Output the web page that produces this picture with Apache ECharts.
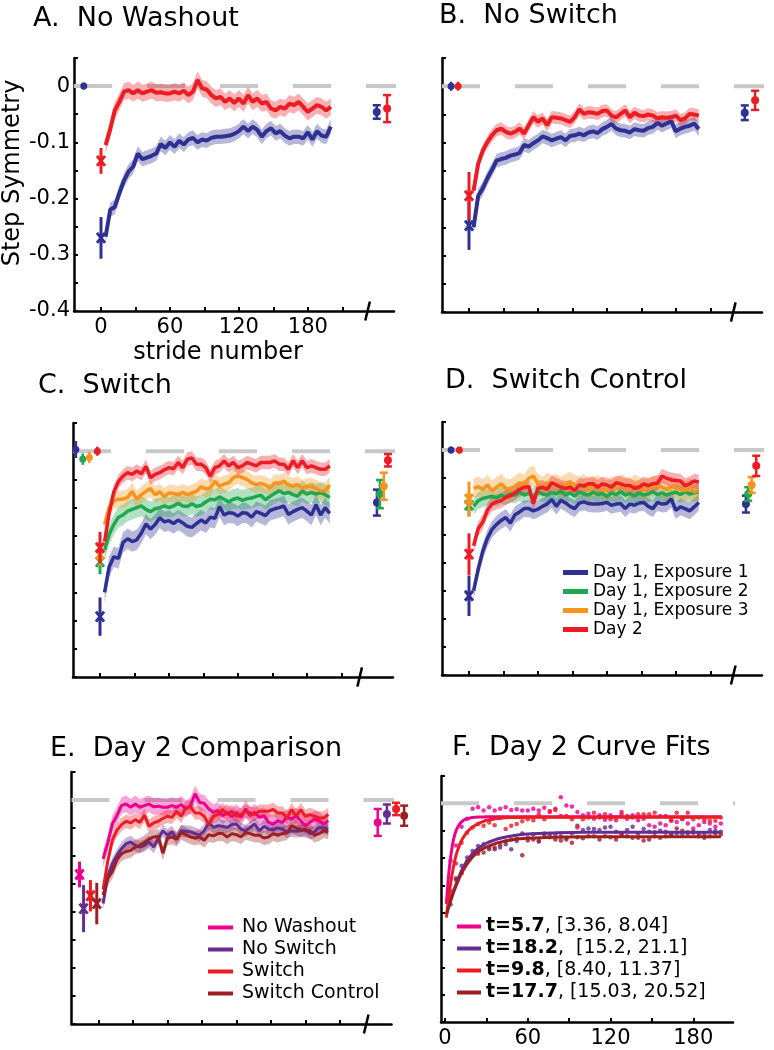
<!DOCTYPE html>
<html>
<head>
<meta charset="utf-8">
<title>Step Symmetry</title>
<script src="https://cdn.jsdelivr.net/npm/echarts@6/dist/echarts.min.js"></script>
<style>
html, body { margin: 0; padding: 0; background: #fff; }
#main { width: 774px; height: 1050px; }
</style>
</head>
<body>
<div id="main"></div>
<script>
// 步长（每个数据点对应的 stride）
var strides = [4, 8, 12, 16, 20, 24, 28, 32, 36, 40, 44, 48, 52, 56, 60, 64, 68, 72, 76, 80,
  84, 88, 92, 96, 100, 104, 108, 112, 116, 120, 124, 128, 132, 136, 140, 144, 148, 152, 156, 160,
  164, 168, 172, 176, 180, 184, 188, 192, 196, 200];

// 坐标轴刻度
var xTicks = [0, 30, 60, 90, 120, 150, 180, 210];
var xLabels = [0, 60, 120, 180];
var yTicks = [-0.4, -0.35, -0.3, -0.25, -0.2, -0.15, -0.1, -0.05, 0, 0.05];
var yLabels = [-0.4, -0.3, -0.2, -0.1, 0];

// A. No Washout
var noWashDay1 = [-0.268, -0.22, -0.215, -0.19, -0.168, -0.152, -0.143, -0.12, -0.13, -0.127,
  -0.124, -0.12, -0.103, -0.11, -0.1, -0.108, -0.097, -0.104, -0.095, -0.092,
  -0.1, -0.095, -0.097, -0.092, -0.09, -0.09, -0.089, -0.088, -0.085, -0.08,
  -0.072, -0.08, -0.072, -0.078, -0.09, -0.08, -0.075, -0.084, -0.08, -0.088,
  -0.093, -0.09, -0.09, -0.093, -0.082, -0.095, -0.08, -0.088, -0.09, -0.072];
var noWashDay2 = [-0.105, -0.077, -0.043, -0.028, -0.01, -0.007, -0.013, -0.007, -0.013, -0.01,
  -0.007, -0.012, -0.011, -0.013, -0.013, -0.01, -0.013, -0.008, -0.016, -0.01,
  0.011, -0.004, -0.006, -0.016, -0.022, -0.019, -0.028, -0.022, -0.03, -0.022,
  -0.031, -0.016, -0.028, -0.022, -0.031, -0.028, -0.04, -0.043, -0.037, -0.04,
  -0.031, -0.034, -0.028, -0.037, -0.046, -0.04, -0.034, -0.037, -0.043, -0.037];

// B. No Switch
var noSwDay1 = [-0.25, -0.194, -0.181, -0.163, -0.148, -0.132, -0.129, -0.127, -0.123, -0.121,
  -0.118, -0.104, -0.107, -0.101, -0.096, -0.089, -0.092, -0.096, -0.093, -0.09,
  -0.096, -0.088, -0.087, -0.084, -0.087, -0.082, -0.08, -0.083, -0.076, -0.072,
  -0.067, -0.075, -0.078, -0.079, -0.082, -0.076, -0.078, -0.079, -0.074, -0.072,
  -0.065, -0.07, -0.066, -0.062, -0.08, -0.075, -0.072, -0.07, -0.066, -0.076];
var noSwDay2 = [-0.185, -0.137, -0.114, -0.099, -0.087, -0.078, -0.075, -0.081, -0.084, -0.081,
  -0.075, -0.084, -0.069, -0.055, -0.063, -0.057, -0.069, -0.055, -0.056, -0.057,
  -0.06, -0.063, -0.055, -0.041, -0.049, -0.046, -0.047, -0.049, -0.044, -0.043,
  -0.052, -0.055, -0.049, -0.043, -0.055, -0.047, -0.052, -0.053, -0.05, -0.052,
  -0.057, -0.055, -0.056, -0.055, -0.052, -0.06, -0.057, -0.049, -0.05, -0.052];

// C. Switch
var swExp1 = [-0.25, -0.205, -0.187, -0.19, -0.162, -0.155, -0.16, -0.157, -0.145, -0.129,
  -0.138, -0.13, -0.118, -0.125, -0.123, -0.128, -0.122, -0.127, -0.133, -0.135,
  -0.128, -0.122, -0.127, -0.117, -0.119, -0.098, -0.113, -0.109, -0.11, -0.115,
  -0.109, -0.11, -0.117, -0.107, -0.11, -0.114, -0.105, -0.102, -0.1, -0.097,
  -0.112, -0.107, -0.103, -0.1, -0.106, -0.113, -0.095, -0.113, -0.1, -0.11];
var swExp2 = [-0.175, -0.147, -0.13, -0.117, -0.113, -0.106, -0.103, -0.1, -0.097, -0.103,
  -0.107, -0.102, -0.1, -0.097, -0.1, -0.097, -0.092, -0.097, -0.098, -0.093,
  -0.098, -0.096, -0.09, -0.085, -0.086, -0.081, -0.085, -0.09, -0.085, -0.083,
  -0.087, -0.084, -0.083, -0.08, -0.078, -0.086, -0.08, -0.075, -0.07, -0.075,
  -0.073, -0.077, -0.08, -0.07, -0.076, -0.073, -0.076, -0.073, -0.077, -0.082];
var swExp3 = [-0.13, -0.1, -0.088, -0.085, -0.085, -0.082, -0.071, -0.085, -0.077, -0.071,
  -0.066, -0.077, -0.072, -0.08, -0.074, -0.075, -0.077, -0.073, -0.077, -0.074,
  -0.071, -0.063, -0.067, -0.065, -0.053, -0.062, -0.058, -0.056, -0.047, -0.043,
  -0.047, -0.05, -0.056, -0.059, -0.057, -0.06, -0.065, -0.056, -0.057, -0.053,
  -0.06, -0.062, -0.059, -0.065, -0.063, -0.062, -0.066, -0.07, -0.07, -0.06];
var swDay2 = [-0.16, -0.11, -0.072, -0.054, -0.044, -0.038, -0.041, -0.035, -0.04, -0.027,
  -0.047, -0.041, -0.038, -0.033, -0.029, -0.031, -0.02, -0.029, -0.014, -0.012,
  -0.023, -0.023, -0.029, -0.044, -0.029, -0.026, -0.017, -0.026, -0.02, -0.029,
  -0.026, -0.02, -0.023, -0.026, -0.02, -0.02, -0.02, -0.017, -0.023, -0.023,
  -0.032, -0.017, -0.029, -0.017, -0.029, -0.026, -0.029, -0.032, -0.032, -0.026];

// D. Switch Control
var ctrlExp1 = [-0.25, -0.212, -0.18, -0.157, -0.141, -0.132, -0.125, -0.12, -0.13, -0.115,
  -0.11, -0.104, -0.104, -0.108, -0.105, -0.1, -0.096, -0.088, -0.1, -0.089,
  -0.094, -0.1, -0.104, -0.094, -0.092, -0.095, -0.096, -0.096, -0.095, -0.093,
  -0.098, -0.096, -0.095, -0.104, -0.096, -0.098, -0.094, -0.093, -0.1, -0.104,
  -0.093, -0.096, -0.095, -0.087, -0.107, -0.101, -0.104, -0.108, -0.101, -0.093];
var ctrlExp2 = [-0.1, -0.09, -0.086, -0.084, -0.082, -0.085, -0.08, -0.083, -0.078, -0.08,
  -0.075, -0.08, -0.077, -0.082, -0.074, -0.078, -0.08, -0.075, -0.078, -0.072,
  -0.08, -0.076, -0.082, -0.074, -0.078, -0.08, -0.075, -0.079, -0.077, -0.083,
  -0.076, -0.079, -0.074, -0.08, -0.077, -0.082, -0.076, -0.08, -0.078, -0.074,
  -0.079, -0.076, -0.08, -0.077, -0.075, -0.079, -0.074, -0.078, -0.076, -0.074];
var ctrlExp3 = [-0.068, -0.065, -0.07, -0.062, -0.072, -0.066, -0.06, -0.068, -0.07, -0.064,
  -0.058, -0.062, -0.05, -0.046, -0.06, -0.066, -0.058, -0.063, -0.06, -0.066,
  -0.06, -0.057, -0.062, -0.065, -0.06, -0.07, -0.066, -0.062, -0.068, -0.072,
  -0.064, -0.068, -0.06, -0.065, -0.068, -0.062, -0.066, -0.07, -0.068, -0.064,
  -0.062, -0.066, -0.07, -0.065, -0.067, -0.07, -0.072, -0.068, -0.074, -0.072];
var ctrlDay2 = [-0.17, -0.14, -0.128, -0.107, -0.096, -0.092, -0.09, -0.084, -0.081, -0.076,
  -0.07, -0.066, -0.065, -0.095, -0.068, -0.066, -0.07, -0.058, -0.062, -0.066,
  -0.068, -0.066, -0.072, -0.062, -0.064, -0.06, -0.06, -0.066, -0.06, -0.062,
  -0.066, -0.058, -0.06, -0.063, -0.063, -0.068, -0.066, -0.06, -0.063, -0.06,
  -0.059, -0.046, -0.05, -0.053, -0.054, -0.055, -0.063, -0.06, -0.055, -0.057];

// 标准误（阴影带半宽）
var seNoWash = [0.013, 0.015];
var seNoSw = [0.012, 0.011];
var seSw = [0.018, 0.018, 0.015, 0.012];
var seCtrl = [0.015, 0.015, 0.018, 0.013];

// 单点: [stride, 均值, 标准误]
var noWashBase = [[-15, 0, 0.006]];
var noWashFirst = [[0, -0.27, 0.037], [0, -0.133, 0.023]];
var noWashPost = [[240, -0.046, 0.012], [249, -0.04, 0.024]];

var noSwBase = [[-15.6, 0, 0.008], [-9.5, 0, 0.008]];
var noSwFirst = [[0, -0.247, 0.043], [0, -0.194, 0.042]];
var noSwPost = [[240, -0.047, 0.013], [249, -0.025, 0.017]];

var swBase = [[-21, 0.003, 0.015], [-15, -0.014, 0.01], [-9.3, -0.011, 0.01], [-2.3, 0, 0.008]];
var swFirst = [[0, -0.293, 0.034], [0, -0.196, 0.022], [0, -0.183, 0.02], [0, -0.171, 0.028]];
var swPost = [[241, -0.091, 0.023], [243.6, -0.076, 0.025], [247, -0.062, 0.024], [250.6, -0.016, 0.011]];

var ctrlBase = [[-15.6, 0, 0.006], [-8.4, 0, 0.006]];
var ctrlFirst = [[0, -0.259, 0.036], [0, -0.098, 0.02], [0, -0.087, 0.031], [0, -0.185, 0.037]];
var ctrlPost = [[241, -0.096, 0.015], [243, -0.078, 0.012], [246, -0.062, 0.014], [250, -0.028, 0.018]];

// E 中各组的横向错位
var cmpFirstX = [-16.5, -13, -7, -1.5];
var cmpPostX = [243, 251, 259, 266];

// F. 指数拟合曲线
var fitX = [1, 2, 3, 4, 6, 8, 10, 12, 15, 18, 22, 26, 30, 35, 40, 50, 60, 80, 100, 150, 200];
var fitNoWash = [-0.184, -0.15, -0.122, -0.1, -0.068, -0.05, -0.04, -0.034, -0.029, -0.027, -0.0255,
  -0.025, -0.0245, -0.0245, -0.0245, -0.0245, -0.0245, -0.0245, -0.0245, -0.0245, -0.0245];
var fitNoSw = [-0.203, -0.195, -0.186, -0.178, -0.162, -0.148, -0.135, -0.123, -0.109, -0.098, -0.087,
  -0.079, -0.073, -0.068, -0.064, -0.059, -0.056, -0.054, -0.053, -0.053, -0.053];
var fitSw = [-0.209, -0.187, -0.166, -0.148, -0.118, -0.095, -0.08, -0.068, -0.056, -0.047, -0.04,
  -0.035, -0.031, -0.029, -0.027, -0.026, -0.0255, -0.0255, -0.0255, -0.0255, -0.0255];
var fitCtrl = [-0.203, -0.195, -0.187, -0.179, -0.164, -0.151, -0.139, -0.128, -0.115, -0.104, -0.093,
  -0.085, -0.08, -0.075, -0.071, -0.066, -0.064, -0.062, -0.061, -0.061, -0.061];
var fitNames = ['t=5.7, [3.36, 8.04]', 't=18.2,  [15.2, 21.1]', 't=9.8, [8.40, 11.37]', 't=17.7, [15.03, 20.52]'];

var breakAt = [232, 230, 226, 230, 233];

var FONT = 'DejaVu Sans';
var BLUE = '#2e3192', RED = '#ed1c24', GREEN = '#1fa84f', ORANGE = '#f7941d',
    PINK = '#ec008c', PURPLE = '#662d91', DRED = '#9e1f23', GRAY = '#c8c8c8';

var myChart = echarts.init(document.getElementById('main'));

function pairs(xs, ys) {
  return xs.map(function (x, i) { return [x, ys[i]]; });
}

function band(idx, ys, se, color) {
  return {
    type: 'custom', xAxisIndex: idx, yAxisIndex: idx, z: 2, silent: true,
    data: [[strides[0], ys[0]]],
    renderItem: function (params, api) {
      var pts = [], i;
      for (i = 0; i < ys.length; i++) pts.push(api.coord([strides[i], ys[i] + se]));
      for (i = ys.length - 1; i >= 0; i--) pts.push(api.coord([strides[i], ys[i] - se]));
      return { type: 'polygon', shape: { points: pts }, style: { fill: color, opacity: 0.35 } };
    }
  };
}

function curve(idx, name, ys, color, width) {
  return {
    type: 'line', name: name, xAxisIndex: idx, yAxisIndex: idx, z: 3, silent: true,
    data: pairs(strides, ys), showSymbol: false, color: color,
    lineStyle: { width: width, color: color }
  };
}

function marks(idx, pts, colors, kind) {
  return pts.map(function (p, k) {
    var color = colors[k];
    return {
      type: 'custom', xAxisIndex: idx, yAxisIndex: idx, z: 4, silent: true, clip: false,
      data: [p],
      renderItem: function (params, api) {
        var x = api.value(0), y = api.value(1), e = api.value(2);
        var c = api.coord([x, y]);
        var top = api.coord([x, y + e])[1], bot = api.coord([x, y - e])[1];
        var st = { stroke: color, lineWidth: kind === 'x' ? 3 : 2.5 };
        var kids = [{ type: 'line', shape: { x1: c[0], y1: top, x2: c[0], y2: bot }, style: st }];
        if (kind === 'cap') {
          kids.push({ type: 'line', shape: { x1: c[0] - 4, y1: top, x2: c[0] + 4, y2: top }, style: st });
          kids.push({ type: 'line', shape: { x1: c[0] - 4, y1: bot, x2: c[0] + 4, y2: bot }, style: st });
        }
        if (kind === 'x') {
          kids.push({ type: 'line', shape: { x1: c[0] - 4, y1: c[1] - 5, x2: c[0] + 4, y2: c[1] + 5 }, style: st });
          kids.push({ type: 'line', shape: { x1: c[0] - 4, y1: c[1] + 5, x2: c[0] + 4, y2: c[1] - 5 }, style: st });
        } else {
          kids.push({ type: 'circle', shape: { cx: c[0], cy: c[1], r: kind === 'dot' ? 3.5 : 4 }, style: { fill: color } });
        }
        return { type: 'group', children: kids };
      }
    };
  });
}

function zeroLine(idx, from, to) {
  return {
    type: 'line', xAxisIndex: idx, yAxisIndex: idx, z: 1, clip: false, silent: true, showSymbol: false,
    data: [[from, 0], [to, 0]], lineStyle: { color: GRAY, width: 4, type: [38, 35] }
  };
}

function breakMark(idx) {
  var at = breakAt[idx];
  return {
    type: 'line', xAxisIndex: idx, yAxisIndex: idx, z: 5, clip: false, silent: true, showSymbol: false,
    data: [[at - 2, -0.417], [at + 2, -0.383]], lineStyle: { color: '#000', width: 2.5 }
  };
}

function xAx(idx, labels, min, max, ticks) {
  return {
    type: 'value', gridIndex: idx, min: min, max: max,
    axisLine: { show: true, onZero: false, lineStyle: { color: '#000', width: 2.5 } },
    axisTick: { show: true, inside: true, length: 4, customValues: ticks, lineStyle: { color: '#000', width: 2 } },
    axisLabel: { show: labels, customValues: xLabels, margin: 6, color: '#000', fontSize: 21, fontFamily: FONT },
    splitLine: { show: false }
  };
}

function yAx(idx, labels) {
  return {
    type: 'value', gridIndex: idx, min: -0.4, max: 0.05,
    axisLine: { show: true, onZero: false, lineStyle: { color: '#000', width: 2.5 } },
    axisTick: { show: true, inside: true, length: 4, customValues: yTicks, lineStyle: { color: '#000', width: 2 } },
    axisLabel: { show: labels, customValues: yLabels, margin: 4, color: '#000', fontSize: 21, fontFamily: FONT },
    splitLine: { show: false }
  };
}

function ttl(text, left, cy) {
  return {
    text: text, left: left, top: cy - 13, padding: 0,
    textStyle: { fontFamily: FONT, fontSize: 27, fontWeight: 'normal', color: '#000' }
  };
}

var series = [];
// A
series.push(zeroLine(0, -23.5, 263), band(0, noWashDay1, seNoWash[0], BLUE), band(0, noWashDay2, seNoWash[1], RED),
  curve(0, 'No Washout Day 1', noWashDay1, BLUE, 4), curve(0, 'No Washout Day 2', noWashDay2, RED, 4), breakMark(0));
series = series.concat(marks(0, noWashBase, [BLUE], 'dot'), marks(0, noWashFirst, [BLUE, RED], 'x'),
  marks(0, noWashPost, [BLUE, RED], 'cap'));
// B
series.push(zeroLine(1, -23.5, 263), band(1, noSwDay1, seNoSw[0], BLUE), band(1, noSwDay2, seNoSw[1], RED),
  curve(1, 'No Switch Day 1', noSwDay1, BLUE, 4), curve(1, 'No Switch Day 2', noSwDay2, RED, 4), breakMark(1));
series = series.concat(marks(1, noSwBase, [BLUE, RED], 'dot'), marks(1, noSwFirst, [BLUE, RED], 'x'),
  marks(1, noSwPost, [BLUE, RED], 'cap'));
// C, D
var four = [BLUE, GREEN, ORANGE, RED];
var legNames = ['Day 1, Exposure 1', 'Day 1, Exposure 2', 'Day 1, Exposure 3', 'Day 2'];
[2, 3].forEach(function (idx) {
  var d = idx === 2 ? [swExp1, swExp2, swExp3, swDay2] : [ctrlExp1, ctrlExp2, ctrlExp3, ctrlDay2];
  var se = idx === 2 ? seSw : seCtrl;
  series.push(zeroLine(idx, -23.5, 263), breakMark(idx));
  d.forEach(function (ys, k) { series.push(band(idx, ys, se[k], four[k])); });
  d.forEach(function (ys, k) { series.push(curve(idx, legNames[k], ys, four[k], 3.5)); });
  if (idx === 2) {
    series = series.concat(marks(2, swBase, four, 'dot'), marks(2, swFirst, four, 'x'), marks(2, swPost, four, 'cap'));
  } else {
    series = series.concat(marks(3, ctrlBase, [BLUE, RED], 'dot'), marks(3, ctrlFirst, four, 'x'), marks(3, ctrlPost, four, 'cap'));
  }
});
// E
var cmpNames = ['No Washout', 'No Switch', 'Switch', 'Switch Control'];
var cmpColors = [PINK, PURPLE, RED, DRED];
var cmpData = [noWashDay2, noSwDay2, swDay2, ctrlDay2];
var cmpSe = [seNoWash[1], seNoSw[1], seSw[3], seCtrl[3]];
var cmpFirst = [noWashFirst[1], noSwFirst[1], swFirst[3], ctrlFirst[3]];
var cmpPost = [noWashPost[1], noSwPost[1], swPost[3], ctrlPost[3]];
series.push(zeroLine(4, -23.5, 263), breakMark(4));
cmpData.forEach(function (ys, k) { series.push(band(4, ys, cmpSe[k], cmpColors[k])); });
cmpData.forEach(function (ys, k) { series.push(curve(4, cmpNames[k], ys, cmpColors[k], 3)); });
series = series.concat(
  marks(4, cmpFirst.map(function (p, k) { return [cmpFirstX[k], p[1], p[2]]; }), cmpColors, 'x'),
  marks(4, cmpPost.map(function (p, k) { return [cmpPostX[k], p[1], p[2]]; }), cmpColors, 'cap'));
// F
series.push(zeroLine(5, -2.9, 228));
var fitData = [fitNoWash, fitNoSw, fitSw, fitCtrl];
cmpData.forEach(function (ys, k) {
  series.push({
    type: 'scatter', xAxisIndex: 5, yAxisIndex: 5, z: 3, silent: true, symbolSize: 4.5,
    data: pairs(strides, ys), itemStyle: { color: cmpColors[k] }
  });
});
fitData.forEach(function (ys, k) {
  series.push({
    type: 'line', name: fitNames[k], xAxisIndex: 5, yAxisIndex: 5, z: 4, silent: true,
    data: pairs(fitX, ys), showSymbol: false, smooth: 0.3, color: cmpColors[k],
    lineStyle: { width: 3, color: cmpColors[k] }
  });
});

var option = {
  animation: false,
  backgroundColor: '#fff',
  title: [
    ttl('A.  No Washout', 33, 18),
    ttl('B.  No Switch', 439, 15),
    ttl('C.  Switch', 38, 385),
    ttl('D.  Switch Control', 445, 380),
    ttl('E.  Day 2 Comparison', 50, 748),
    ttl('F.  Day 2 Curve Fits', 452, 747)
  ],
  grid: [
    { left: 74, top: 58, width: 320, height: 253, outerBoundsMode: 'none' },
    { left: 442, top: 58, width: 320, height: 254, outerBoundsMode: 'none' },
    { left: 73, top: 423, width: 320, height: 254, outerBoundsMode: 'none' },
    { left: 442, top: 422, width: 320, height: 253, outerBoundsMode: 'none' },
    { left: 71.5, top: 772, width: 320, height: 252, outerBoundsMode: 'none' },
    { left: 441, top: 776, width: 292, height: 246, outerBoundsMode: 'none' }
  ],
  xAxis: [
    xAx(0, true, -23.5, 255, xTicks), xAx(1, false, -23.5, 255, xTicks), xAx(2, false, -23.5, 255, xTicks),
    xAx(3, false, -23.5, 255, xTicks), xAx(4, false, -23.5, 255, xTicks), xAx(5, true, -2.9, 208.8, xTicks.slice(0, 7))
  ],
  yAxis: [yAx(0, true), yAx(1, false), yAx(2, false), yAx(3, false), yAx(4, false), yAx(5, false)],
  legend: [
    {
      data: legNames, orient: 'vertical', left: 563, top: 564, padding: 0, itemGap: 2,
      itemWidth: 25, itemHeight: 5, icon: 'rect', selectedMode: false,
      textStyle: { fontFamily: FONT, fontSize: 17, lineHeight: 17, color: '#000' }
    },
    {
      data: cmpNames, orient: 'vertical', left: 208, top: 918, padding: 0, itemGap: 3,
      itemWidth: 25, itemHeight: 4, icon: 'rect', selectedMode: false,
      textStyle: { fontFamily: FONT, fontSize: 19, lineHeight: 19, color: '#000', padding: [0, 0, 0, 4] }
    },
    {
      data: fitNames, orient: 'vertical', left: 457, top: 917, padding: 0, itemGap: 3,
      itemWidth: 24, itemHeight: 4, icon: 'rect', selectedMode: false,
      formatter: function (name) {
        var i = name.indexOf(',');
        return '{b|' + name.slice(0, i) + '}' + name.slice(i);
      },
      textStyle: {
        fontFamily: FONT, fontSize: 19, lineHeight: 19, color: '#000',
        rich: { b: { fontFamily: FONT, fontSize: 19, fontWeight: 'bold', color: '#000' } }
      }
    }
  ],
  graphic: [
    {
      type: 'text', x: 13, y: 173, rotation: Math.PI / 2,
      style: { text: 'Step Symmetry', font: '24px "DejaVu Sans"', fill: '#000', align: 'center', verticalAlign: 'middle' }
    },
    {
      type: 'text', x: 218, y: 353,
      style: { text: 'stride number', font: '24px "DejaVu Sans"', fill: '#000', align: 'center', verticalAlign: 'middle' }
    }
  ],
  series: series
};

myChart.setOption(option);
</script>
</body>
</html>
